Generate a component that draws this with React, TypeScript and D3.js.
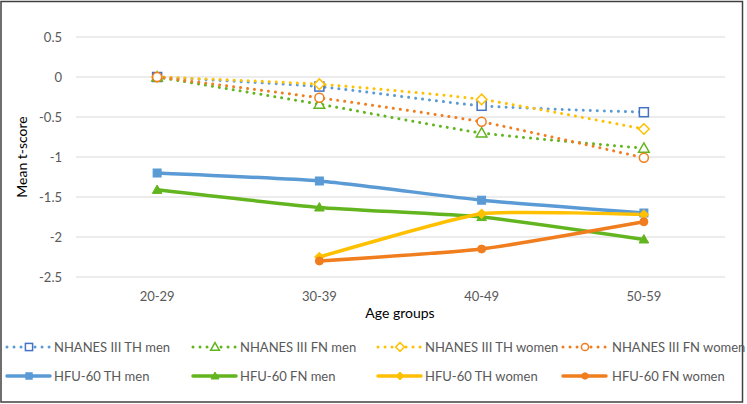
import React from "react";
import * as d3 from "d3";

const categories = ["20-29", "30-39", "40-49", "50-59"];
const yTicks = [0.5, 0, -0.5, -1, -1.5, -2, -2.5];
const yTickLabels = ["0.5", "0", "-0.5", "-1", "-1.5", "-2", "-2.5"];

const nhanesTHMen = [0, -0.12, -0.36, -0.44];
const nhanesFNMen = [0, -0.34, -0.7, -0.89];
const nhanesTHWomen = [0, -0.09, -0.28, -0.65];
const nhanesFNWomen = [0, -0.26, -0.56, -1.01];
const hfuTHMen = [-1.2, -1.3, -1.54, -1.7];
const hfuFNMen = [-1.41, -1.63, -1.75, -2.03];
const hfuTHWomen = [null, -2.25, -1.71, -1.72];
const hfuFNWomen = [null, -2.3, -2.15, -1.81];

const seriesNames = [
  "NHANES III TH men",
  "NHANES III FN men",
  "NHANES III TH women",
  "NHANES III FN women",
  "HFU-60 TH men",
  "HFU-60 FN men",
  "HFU-60 TH women",
  "HFU-60 FN women",
];

type Series = {
  name: string;
  values: (number | null)[];
  color: string;
  markerColor: string;
  marker: "square" | "triangle" | "diamond" | "circle";
  dotted: boolean;
};

const BLUE = "#5B9BD5";
const GREEN = "#62B51E";
const YELLOW = "#FFC000";
const ORANGE = "#F07D1E";

const series: Series[] = [
  { name: seriesNames[0], values: nhanesTHMen, color: BLUE, markerColor: "#4472C4", marker: "square", dotted: true },
  { name: seriesNames[1], values: nhanesFNMen, color: GREEN, markerColor: GREEN, marker: "triangle", dotted: true },
  { name: seriesNames[2], values: nhanesTHWomen, color: YELLOW, markerColor: YELLOW, marker: "diamond", dotted: true },
  { name: seriesNames[3], values: nhanesFNWomen, color: ORANGE, markerColor: ORANGE, marker: "circle", dotted: true },
  { name: seriesNames[4], values: hfuTHMen, color: BLUE, markerColor: BLUE, marker: "square", dotted: false },
  { name: seriesNames[5], values: hfuFNMen, color: GREEN, markerColor: GREEN, marker: "triangle", dotted: false },
  { name: seriesNames[6], values: hfuTHWomen, color: YELLOW, markerColor: YELLOW, marker: "diamond", dotted: false },
  { name: seriesNames[7], values: hfuFNWomen, color: ORANGE, markerColor: ORANGE, marker: "circle", dotted: false },
];

const W = 747;
const H = 404;
const FONT = "Lato, 'Open Sans', sans-serif";

const x = d3.scalePoint<string>().domain(categories).range([76, 725]).padding(0.5);
const y = d3.scaleLinear().domain([-2.5, 0.5]).range([277, 37]);

function Marker({ s, cx, cy, k = 1 }: { s: Series; cx: number; cy: number; k?: number }) {
  const open = s.dotted;
  const fill = open ? "#fff" : s.markerColor;
  const stroke = s.markerColor;
  const sw = open ? 1.5 : 1;
  const r = (open ? 4.5 : 4) * k;
  if (s.marker === "square") {
    return <rect x={cx - r} y={cy - r} width={2 * r} height={2 * r} fill={fill} stroke={stroke} strokeWidth={sw} />;
  }
  if (s.marker === "circle") {
    return <circle cx={cx} cy={cy} r={r} fill={fill} stroke={stroke} strokeWidth={sw} />;
  }
  if (s.marker === "diamond") {
    const d = r + 0.8;
    return (
      <path d={`M${cx},${cy - d}L${cx + d},${cy}L${cx},${cy + d}L${cx - d},${cy}Z`} fill={fill} stroke={stroke} strokeWidth={sw} />
    );
  }
  const t = r + 0.8;
  return (
    <path
      d={`M${cx},${cy - t}L${cx + t},${cy + t * 0.75}L${cx - t},${cy + t * 0.75}Z`}
      fill={fill}
      stroke={stroke}
      strokeWidth={sw}
    />
  );
}

export default function App() {
  const line = d3
    .line<[string, number | null]>()
    .defined((d) => d[1] !== null)
    .x((d) => x(d[0]) as number)
    .y((d) => y(d[1] as number))
    .curve(d3.curveCardinal.tension(0.5));

  const legendCols = [7, 193, 378, 563];
  const legendTextX = [54, 240, 425, 612];
  const legendRows = [347, 376];

  return (
    <svg width={W} height={H} style={{ position: "absolute", left: 0, top: 0, fontFamily: FONT }}>
      <rect x={0} y={0} width={W} height={H} fill="#fff" />
      <rect x={1} y={1.5} width={741.5} height={400.5} fill="#fff" stroke="#404040" strokeWidth={1.5} />
      {yTicks.map((t, i) => (
        <g key={t}>
          <line x1={76} x2={725} y1={y(t)} y2={y(t)} stroke="#D9D9D9" strokeWidth={1} />
          <text x={62} y={y(t)} dy="0.35em" textAnchor="end" fontSize={13} fill="#595959">
            {yTickLabels[i]}
          </text>
        </g>
      ))}
      {categories.map((c) => (
        <text key={c} x={x(c)} y={296} dy="0.35em" textAnchor="middle" fontSize={13} fill="#595959">
          {c}
        </text>
      ))}
      <text x={400} y={313} dy="0.35em" textAnchor="middle" fontSize={14} fill="#000">
        Age groups
      </text>
      <text transform={`translate(22,157) rotate(-90)`} dy="0.35em" textAnchor="middle" fontSize={14} fill="#000">
        Mean t-score
      </text>
      {series.map((s) => (
        <path
          key={s.name + "l"}
          d={line(categories.map((c, i) => [c, s.values[i]]) as [string, number | null][]) || ""}
          fill="none"
          stroke={s.color}
          strokeWidth={s.dotted ? 3 : 3.5}
          strokeDasharray={s.dotted ? "0.01 7" : undefined}
          strokeLinecap="round"
          strokeLinejoin="round"
        />
      ))}
      {series.map((s) =>
        categories.map((c, i) =>
          s.values[i] === null ? null : (
            <Marker key={s.name + c} s={s} cx={x(c) as number} cy={y(s.values[i] as number)} />
          )
        )
      )}
      {series.map((s, i) => {
        const col = i % 4;
        const row = Math.floor(i / 4);
        const x0 = legendCols[col];
        const cy = legendRows[row];
        return (
          <g key={s.name + "lg"}>
            <line
              x1={x0}
              x2={x0 + 43}
              y1={cy}
              y2={cy}
              stroke={s.color}
              strokeWidth={s.dotted ? 3 : 3.5}
              strokeDasharray={s.dotted ? "0.01 7" : undefined}
              strokeLinecap="round"
            />
            <Marker s={s} cx={x0 + 22} cy={cy} k={0.8} />
            <text x={legendTextX[col]} y={cy} dy="0.35em" fontSize={13} fill="#595959">
              {s.name}
            </text>
          </g>
        );
      })}
    </svg>
  );
}
